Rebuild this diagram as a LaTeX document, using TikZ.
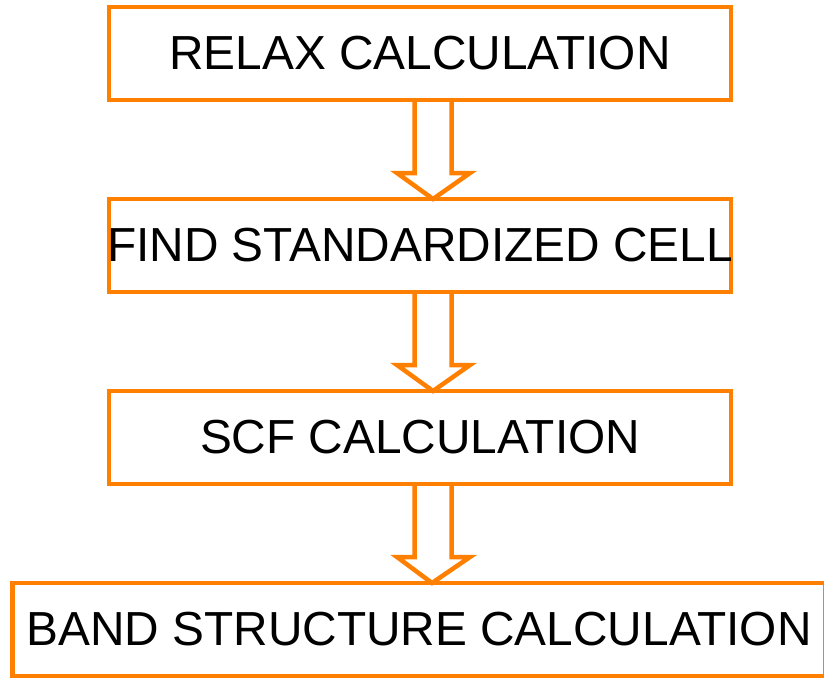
\documentclass[tikz,border=0pt]{standalone}
\usepackage{fontspec}
\setmainfont{Liberation Sans}
\usetikzlibrary{calc}
\definecolor{boxorange}{RGB}{255,128,0}
\tikzset{
  stagebox/.style={draw=boxorange, line width=4.5pt, fill=white, outer sep=0pt,
    minimum height=93pt, inner sep=0pt, font=\fontsize{47.8}{56}\selectfont},
  flowarrow/.style={draw=boxorange, line width=4.5pt, line join=miter}
}
\begin{document}
\begin{tikzpicture}[x=1pt,y=-1pt]
\useasboundingbox (0,0) rectangle (824,680);
\node[stagebox, minimum width=622pt] (relax) at (420,53.5) {RELAX CALCULATION};
\node[stagebox, minimum width=622pt] (std) at (420,245.5) {\makebox[0pt]{FIND STANDARDIZED CELL}};
\node[stagebox, minimum width=622pt] (scf) at (420,437.5) {SCF CALCULATION};
\node[stagebox, minimum width=813pt] (band) at (419,629.5) {BAND STRUCTURE CALCULATION};
% hollow block arrows between the stages
\foreach \from/\to in {relax/std, std/scf, scf/band}
  \draw[flowarrow] ($(\from.south)+(-5.5,0)$) -- ++(0,73) -- ++(-17.5,0)
    -- ($(\to.north)+(13,0)$) -- ($(\from.south)+(50,73)$) -- ++(-18.5,0)
    -- ($(\from.south)+(31.5,0)$);
\end{tikzpicture}
\end{document}
